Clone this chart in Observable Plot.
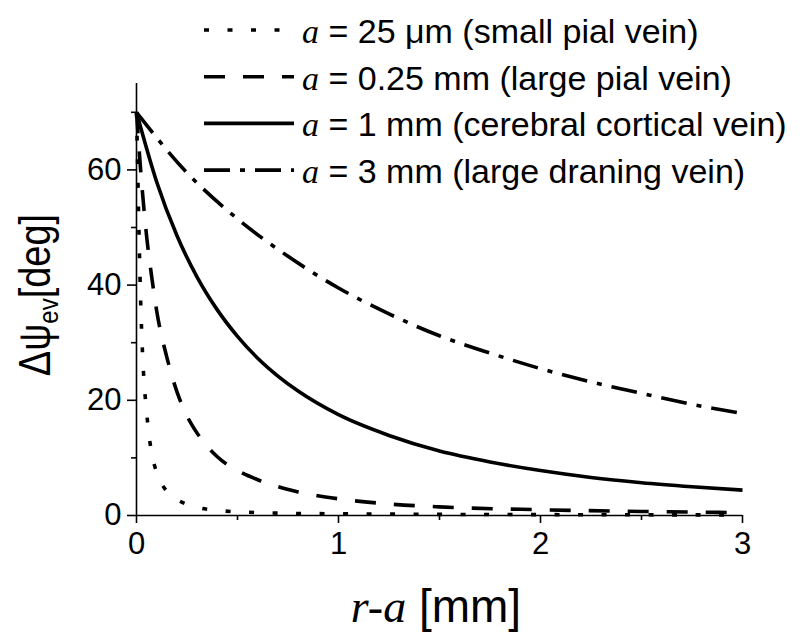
<!DOCTYPE html>
<html>
<head>
<meta charset="utf-8">
<script src="https://cdn.jsdelivr.net/npm/d3@7"></script>
<script src="https://cdn.jsdelivr.net/npm/@observablehq/plot@0.6"></script>
<style>
  body { margin: 0; background: #fff; }
  #chart { position: relative; width: 800px; height: 644px; }
  svg { font-family: "Liberation Sans", Arial, sans-serif; }
</style>
</head>
<body>
<div id="chart"></div>
<script>
// ---- data ----
const legendValue = ["25 μm", "0.25 mm", "1 mm", "3 mm"];
const legendNote = ["(small pial vein)", "(large pial vein)", "(cerebral cortical vein)", "(large draning vein)"];

const xSmallPial = [0, 0.005, 0.01, 0.015, 0.02, 0.03, 0.04, 0.05, 0.06, 0.08, 0.1, 0.15, 0.2, 0.3, 0.4, 0.6, 0.8, 1, 1.5, 2, 2.5, 3];
const ySmallPial = [70, 62, 53, 45, 38, 28, 22, 18, 14.5, 10, 7.5, 4.2, 2.8, 1.4, 0.9, 0.5, 0.35, 0.3, 0.2, 0.15, 0.12, 0.1];

const xLargePial = [0, 0.025, 0.05, 0.075, 0.1, 0.15, 0.2, 0.25, 0.3, 0.4, 0.5, 0.6, 0.7, 0.8, 1, 1.25, 1.5, 2, 2.5, 3];
const yLargePial = [70, 58, 48.5, 41.5, 35.5, 27.5, 21.5, 17.3, 14.3, 10.2, 7.8, 6.2, 5.0, 4.1, 2.9, 2.0, 1.5, 1.0, 0.7, 0.5];

const xCortical = [0, 0.1, 0.2, 0.3, 0.4, 0.5, 0.6, 0.7, 0.8, 1, 1.25, 1.5, 1.75, 2, 2.25, 2.5, 2.75, 3];
const yCortical = [70, 57.9, 48.6, 41.4, 35.7, 31.1, 27.3, 24.2, 21.6, 17.5, 13.9, 11.2, 9.3, 7.8, 6.6, 5.7, 5.0, 4.4];

const xDraining = [0, 0.25, 0.5, 0.75, 1, 1.25, 1.5, 1.75, 2, 2.25, 2.5, 2.75, 3];
const yDraining = [70, 59.5, 51.5, 45, 39.5, 35, 31.2, 28.2, 25.5, 23.2, 21.2, 19.3, 17.7];

const yMajorTicks = [0, 20, 40, 60];
const yMinorTicks = [10, 30, 50, 70];
const xMajorTicks = [0, 1, 2, 3];
const xMinorTicks = [0.5, 1.5, 2.5];

// ---- styles ----
const dashes = ["5,18.5", "21,18", null, "26,10,5,10"];
const lineW = 3.6;

const toRows = (xs, ys) => xs.map((x, i) => ({x, y: ys[i]}));
const seriesData = [
  toRows(xSmallPial, ySmallPial),
  toRows(xLargePial, yLargePial),
  toRows(xCortical, yCortical),
  toRows(xDraining, yDraining)
];

const W = 800, H = 644;
const mL = 136, mR = 58, mT = 83, mB = 129;

const plot = Plot.plot({
  width: W, height: H,
  marginLeft: mL, marginRight: mR, marginTop: mT, marginBottom: mB,
  style: {fontFamily: '"Liberation Sans", Arial, sans-serif', color: "#000", background: "#fff"},
  x: {domain: [0, 3], label: null},
  y: {domain: [0, 75], label: null},
  marks: [
    Plot.axisY(yMinorTicks, {tickSize: 5, tickFormat: () => "", strokeWidth: 1.6, label: null}),
    Plot.axisY(yMajorTicks, {tickSize: 9, tickPadding: 6, fontSize: 31, strokeWidth: 1.6, tickFormat: d => String(d), label: null}),
    Plot.axisX(xMinorTicks, {tickSize: 5, tickFormat: () => "", strokeWidth: 1.6, label: null}),
    Plot.axisX(xMajorTicks, {tickSize: 8, tickPadding: 8, fontSize: 31, strokeWidth: 1.6, tickFormat: d => String(d), label: null}),
    ...seriesData.map((d, i) => Plot.line(d, {
      x: "x", y: "y", stroke: "#000", strokeWidth: lineW,
      curve: "monotone-x",
      strokeDasharray: dashes[i] || undefined,
      strokeLinecap: "butt"
    })),
    Plot.ruleX([0], {y1: 0, y2: 75, stroke: "#000", strokeWidth: 1.6}),
    Plot.ruleY([0], {x1: 0, x2: 3, stroke: "#000", strokeWidth: 1.6})
  ]
});

document.getElementById("chart").appendChild(plot);

const svg = d3.select(plot);

// y axis label
const yl = svg.append("text")
  .attr("transform", "translate(50,295) rotate(-90) scale(1,1.18)")
  .attr("text-anchor", "middle")
  .attr("font-family", '"Liberation Sans", Arial, sans-serif')
  .attr("font-size", 38)
  .attr("fill", "#000");
yl.append("tspan").text("Δψ");
yl.append("tspan").attr("font-size", 24).attr("dy", 7).text("ev");
yl.append("tspan").attr("dy", -7).text("[deg]");

// x axis label
const xl = svg.append("text")
  .attr("x", 436).attr("y", 622)
  .attr("text-anchor", "middle")
  .attr("font-size", 46)
  .attr("fill", "#000");
xl.append("tspan").attr("font-family", '"Liberation Serif", serif').attr("font-style", "italic").text("r-a");
xl.append("tspan").attr("font-family", '"Liberation Sans", Arial, sans-serif').text(" [mm]");

// legend
const lg = svg.append("g");
legendValue.forEach((v, i) => {
  const yy = 30 + 46.7 * i;
  const ln = lg.append("line")
    .attr("x1", 204).attr("x2", 294).attr("y1", yy).attr("y2", yy)
    .attr("stroke", "#000").attr("stroke-width", lineW);
  if (dashes[i]) ln.attr("stroke-dasharray", dashes[i]);
  const t = lg.append("text")
    .attr("x", 302).attr("y", yy + 13)
    .attr("text-anchor", "start")
    .attr("font-size", 34).attr("fill", "#000")
    .attr("font-family", '"Liberation Sans", Arial, sans-serif');
  t.append("tspan").attr("font-family", '"Liberation Serif", serif').attr("font-style", "italic").text("a");
  t.append("tspan").text(" = " + v + " " + legendNote[i]);
});
</script>
</body>
</html>
